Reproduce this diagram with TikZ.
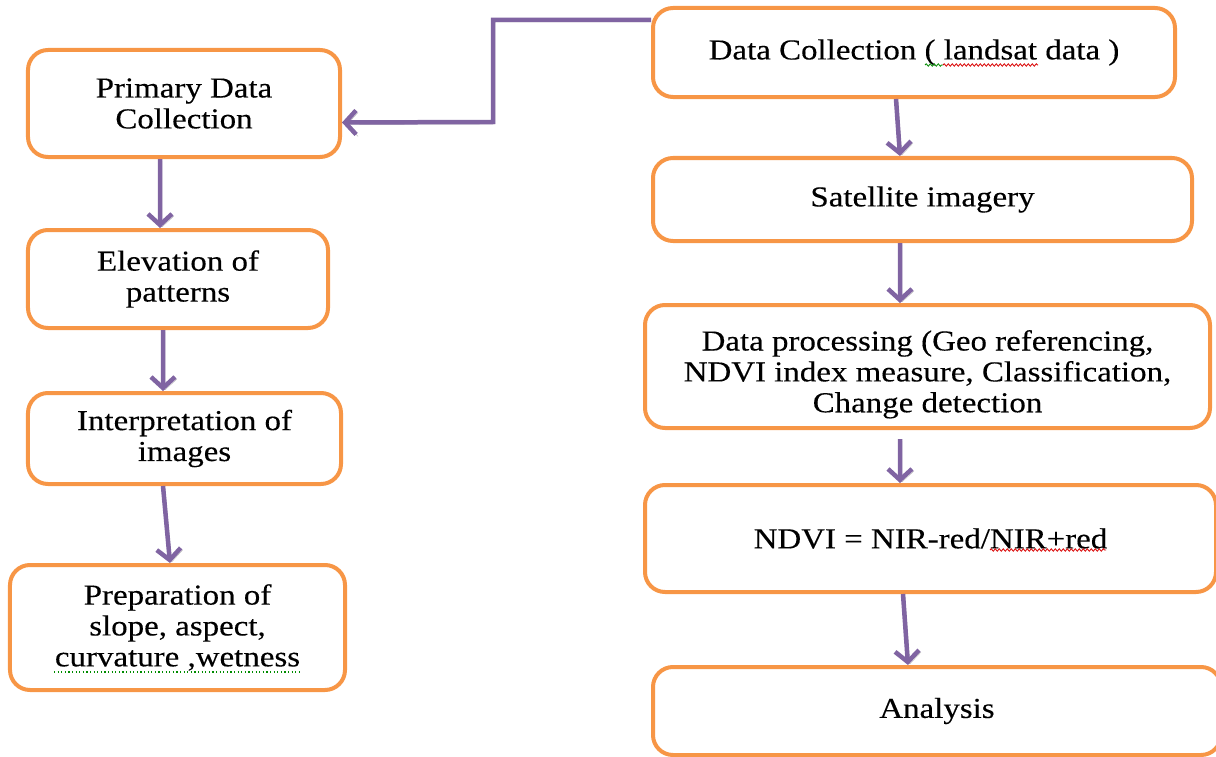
\documentclass[tikz,border=0pt]{standalone}
\usepackage{fontspec}
\setmainfont{Liberation Serif}[FakeStretch=1.14,FakeBold=0.25]
\usetikzlibrary{arrows.meta,decorations.pathmorphing}

\definecolor{boxorange}{HTML}{F79646}
\definecolor{flowpurple}{HTML}{8064A2}

\tikzset{
  stagebox/.style={draw=boxorange, line width=4bp, rounded corners=20bp, fill=white,
    align=center, inner sep=0pt, font=\fontsize{29}{31}\selectfont},
  flowarrow/.style={draw=flowpurple, line width=4.5bp,
    -{Straight Barb[length=11bp,width=24bp]},
    preaction={draw=black!30, transform canvas={shift={(2bp,-2bp)}}}},
  % spell-check marks
  redwave/.style={draw=red!85!black, line width=0.8bp,
    decorate, decoration={snake, segment length=4bp, amplitude=1.2bp}},
  greenwave/.style={redwave, draw=green!55!black},
  greendots/.style={draw=green!55!black, line width=1.2bp, dash pattern=on 1.2bp off 2.4bp}
}

\begin{document}
\begin{tikzpicture}[x=1bp,y=-1bp]
  \useasboundingbox (0,0) rectangle (1216,757);

  % left column
  \node[stagebox, minimum width=312bp, minimum height=107bp] (pdc) at (184,103.5) {Primary Data\\Collection};
  \node[stagebox, minimum width=300bp, minimum height=98bp] (elev) at (178,279) {Elevation of\\patterns};
  \node[stagebox, minimum width=313bp, minimum height=91bp] (interp) at (184.5,438.5) {Interpretation of\\images};
  \node[stagebox, minimum width=335bp, minimum height=125bp] (prep) at (177.5,627.5)
    {Preparation of\\slope, aspect,\\curvature ,wetness};

  % right column
  \node[stagebox, minimum width=522bp, minimum height=89bp] (dcol) at (914,52.5)
    {Data Collection ( landsat data )};
  \node[stagebox, minimum width=539bp, minimum height=83bp] (sat) at (922.5,199.5) {Satellite imagery};
  \node[stagebox, minimum width=565bp, minimum height=123bp] (proc) at (927.5,366.5)
    {\rule{0pt}{36bp}Data processing (Geo referencing,\\NDVI index measure, Classification,\\Change detection};
  \node[stagebox, minimum width=571bp, minimum height=107bp] (ndvi) at (930.5,538.5)
    {NDVI = NIR-red/NIR+red};
  \node[stagebox, minimum width=568bp, minimum height=88bp] (anal) at (937,711) {Analysis};

  % underlines
  \draw[greenwave] (925,65) -- (943,65);
  \draw[redwave] (943,65) -- (1038,65);
  \draw[redwave] (990,550) -- (1106,550);
  \draw[greendots] (54,672) -- (302,672);

  \coordinate (bend) at (493,122);

  % connectors
  \draw[flowarrow] ([yshift=32.5bp]dcol.west) -| (bend) -- ([yshift=-19bp]pdc.east);
  \draw[flowarrow] ([xshift=-24bp]pdc.south) -- ([xshift=-18bp]elev.north);
  \draw[flowarrow] ([xshift=-15bp]elev.south) -- ([xshift=-21.5bp]interp.north);
  \draw[flowarrow] ([xshift=-21.5bp]interp.south) -- ([xshift=-7.5bp]prep.north);
  \draw[flowarrow] ([xshift=-18bp]dcol.south) -- ([xshift=-22.5bp]sat.north);
  \draw[flowarrow] ([xshift=-22.5bp]sat.south) -- ([xshift=-27.5bp]proc.north);
  \draw[flowarrow] ([xshift=-27.5bp,yshift=-9bp]proc.south) -- ([xshift=-30.5bp]ndvi.north);
  \draw[flowarrow] ([xshift=-27.5bp]ndvi.south) -- ([xshift=-29bp]anal.north);
\end{tikzpicture}
\end{document}
